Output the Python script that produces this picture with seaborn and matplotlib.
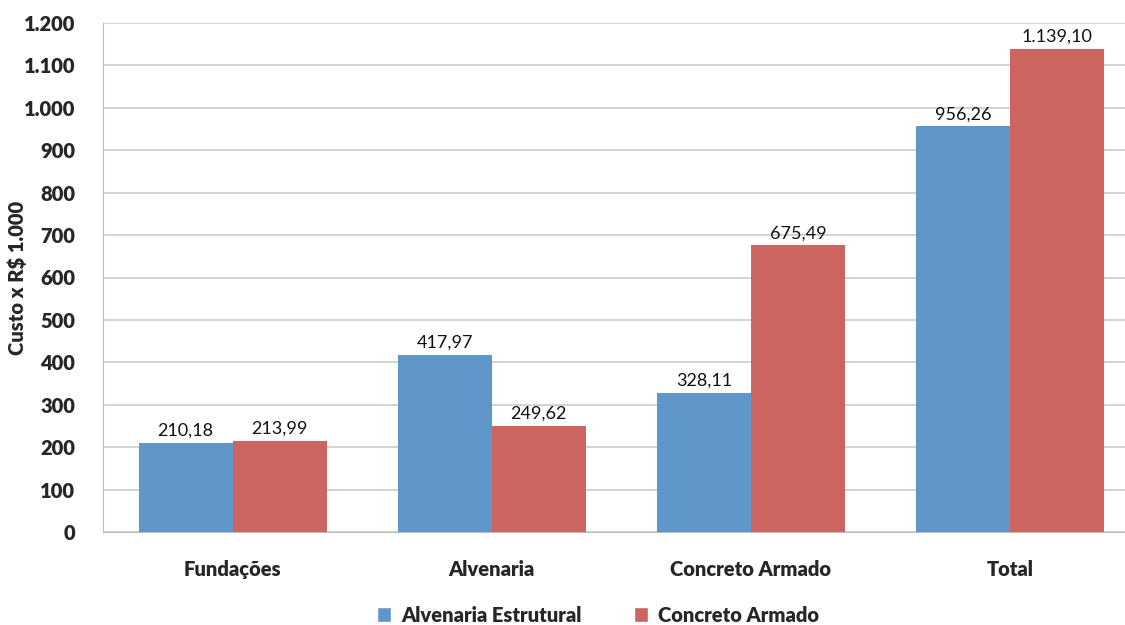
import pandas as pd
import seaborn as sns
import matplotlib.pyplot as plt
from matplotlib.font_manager import FontProperties
from matplotlib.ticker import FuncFormatter, MultipleLocator

categorias = ["Fundações", "Alvenaria", "Concreto Armado", "Total"]
series = ["Alvenaria Estrutural", "Concreto Armado"]
alvenaria_estrutural = [210.18, 417.97, 328.11, 956.26]
concreto_armado = [213.99, 249.62, 675.49, 1139.10]
CORES = ["#6096C9", "#CC6560"]

def fmt_br(v, casas=2):
    s = f"{v:,.{casas}f}"
    return s.replace(",", "X").replace(".", ",").replace("X", ".")

dados = pd.DataFrame({
    "categoria": categorias * 2,
    "serie": [series[0]] * 4 + [series[1]] * 4,
    "custo": alvenaria_estrutural + concreto_armado,
})

sns.set_style("white")
plt.rcParams["font.family"] = ["Lato", "DejaVu Sans"]
negrito = FontProperties(family="Lato", weight="heavy", size=14.5)

fig = plt.figure(figsize=(11.25, 6.25), dpi=100)
ax = fig.add_axes([103 / 1125, 1 - 532 / 625, (1139.5 - 103) / 1125, (532 - 23) / 625])

sns.barplot(data=dados, x="categoria", y="custo", hue="serie", palette=CORES,
            width=0.726, gap=0, saturation=1, ax=ax, zorder=3)

for cont in ax.containers:
    for barra in cont:
        barra.set_edgecolor("none")
    ax.bar_label(cont, labels=[fmt_br(b.get_height()) for b in cont],
                 padding=3, fontsize=13, color="#111111")

ax.set_ylim(0, 1200)
ax.set_xlim(-0.5, 3.5)
ax.yaxis.set_major_locator(MultipleLocator(100))
ax.yaxis.set_major_formatter(FuncFormatter(lambda v, p: fmt_br(v, 0)))
ax.grid(axis="y", color="#c8c8c8", linewidth=1.1, zorder=0)
for lado in ["top", "right"]:
    ax.spines[lado].set_visible(False)
ax.spines["left"].set_color("#bdbdbd")
ax.spines["bottom"].set_color("#bdbdbd")
ax.tick_params(axis="both", length=0)
ax.tick_params(axis="y", pad=20)
ax.tick_params(axis="x", pad=20)
for t in ax.get_xticklabels() + ax.get_yticklabels():
    t.set_fontproperties(negrito)

ax.set_xlabel("")
ax.set_ylabel("Custo x R$ 1.000", fontproperties=negrito)
ax.yaxis.set_label_coords((27 - 103) / (1139.5 - 103), 0.5)

leg = ax.legend(loc="center", bbox_to_anchor=((598 - 103) / (1139.5 - 103), (532 - 615) / 509),
                ncol=2, frameon=False, prop=FontProperties(family="Lato", weight="heavy", size=14.5),
                handlelength=0.7, handleheight=0.7, handletextpad=0.5, columnspacing=2.6,
                borderpad=0)

plt.savefig("out.png", dpi=100)
